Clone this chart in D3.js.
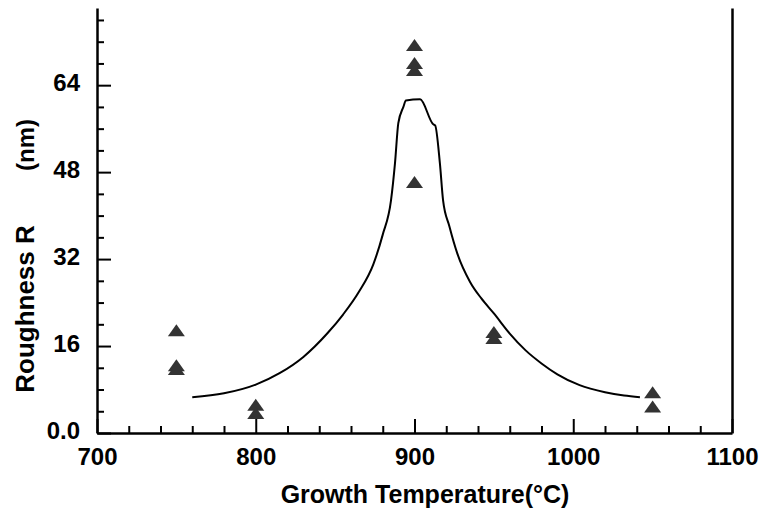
<!DOCTYPE html>
<html>
<head>
<meta charset="utf-8">
<script src="https://cdn.jsdelivr.net/npm/d3@7/dist/d3.min.js"></script>
<style>
  html, body { margin: 0; padding: 0; background: #fff; }
  svg { display: block; }
  text { font-family: "Liberation Sans", Arial, sans-serif; font-weight: bold; fill: #000; }
</style>
</head>
<body>
<svg id="chart" width="769" height="514"></svg>
<script>
// ---- data ----
const tempTicks = [700, 800, 900, 1000, 1100];
const tempMinorTicks = d3.range(700, 1101, 20);
const roughTicks = [0, 16, 32, 48, 64];
const roughTickLabels = ["0.0", "16", "32", "48", "64"];
const roughMinorTicks = d3.range(0, 78, 4);

const pointTemps = [750, 750, 750, 800, 800, 900, 900, 900, 900, 950, 950, 1050, 1050];
const pointRough = [18.7, 12.3, 11.6, 5.0, 3.5, 71.2, 67.9, 66.6, 46.0, 18.4, 17.3, 7.3, 4.7];

const fitTemps = [760, 780, 800, 815, 830, 845, 855, 865, 874, 880, 885.2, 887.7, 889.8, 893, 894.6, 903.5, 911.8, 913, 916, 918, 922, 927, 935, 942, 950, 960, 970, 980, 990, 1004, 1020, 1032, 1042];
const fitRough = [6.6, 7.3, 8.9, 11.0, 14.0, 18.3, 21.8, 26.0, 31.0, 36.5, 42.8, 49.6, 57.0, 60.0, 61.2, 61.4, 56.8, 56.6, 49.6, 42.8, 38.0, 33.0, 27.8, 24.8, 22.0, 18.3, 15.2, 12.8, 10.8, 8.8, 7.5, 6.9, 6.6];

const xTitle = "Growth Temperature(°C)";
const yTitleMain = "Roughness R";
const yTitleUnit = "(nm)";

// ---- layout ----
const svg = d3.select("#chart");
const pLeft = 97, pRight = 732, pTop = 8, pBottom = 433;

const x = d3.scaleLinear().domain([700, 1100]).range([pLeft, pRight]);
const y = d3.scaleLinear().domain([0, 78.2]).range([pBottom, pTop]);

const FONT = "'Liberation Sans', Arial, sans-serif";

// bottom axis: minor ticks
svg.append("g")
  .attr("transform", `translate(0,${pBottom})`)
  .call(d3.axisBottom(x).tickValues(tempMinorTicks.filter(v => tempTicks.indexOf(v) < 0))
        .tickSize(-7).tickSizeOuter(0).tickFormat(""))
  .call(g => g.select(".domain").remove())
  .call(g => g.selectAll("line").attr("stroke", "#000").attr("stroke-width", 2));

// bottom axis: major ticks + labels
svg.append("g")
  .attr("transform", `translate(0,${pBottom})`)
  .call(d3.axisBottom(x).tickValues(tempTicks).tickSize(-14).tickSizeOuter(0).tickFormat(d3.format("d")))
  .call(g => g.select(".domain").attr("stroke", "#000").attr("stroke-width", 2.5))
  .call(g => g.selectAll("line").attr("stroke", "#000").attr("stroke-width", 2))
  .call(g => g.selectAll("text").attr("y", 32).attr("dy", 0)
        .style("font-size", "24px").style("font-weight", "bold")
        .style("font-family", FONT).attr("fill", "#000"));

// left axis: minor
svg.append("g")
  .attr("transform", `translate(${pLeft},0)`)
  .call(d3.axisLeft(y).tickValues(roughMinorTicks.filter(v => roughTicks.indexOf(v) < 0))
        .tickSize(-7).tickSizeOuter(0).tickFormat(""))
  .call(g => g.select(".domain").remove())
  .call(g => g.selectAll("line").attr("stroke", "#000").attr("stroke-width", 2));

// left axis: major + labels
svg.append("g")
  .attr("transform", `translate(${pLeft},0)`)
  .call(d3.axisLeft(y).tickValues(roughTicks).tickSize(-14).tickSizeOuter(0)
        .tickFormat((d, i) => roughTickLabels[i]))
  .call(g => g.select(".domain").attr("stroke", "#000").attr("stroke-width", 2.5))
  .call(g => g.selectAll("line").attr("stroke", "#000").attr("stroke-width", 2))
  .call(g => g.selectAll("text").attr("x", -17).attr("y", 5).attr("dy", 0)
        .style("font-size", "24px").style("font-weight", "bold")
        .style("font-family", FONT).attr("fill", "#000"));

// right axis: line only
svg.append("g")
  .attr("transform", `translate(${pRight},0)`)
  .call(d3.axisRight(y).tickValues([]).tickSizeOuter(0))
  .call(g => g.select(".domain").attr("stroke", "#000").attr("stroke-width", 2.5));

// fit curve
const fitData = fitTemps.map((t, i) => [t, fitRough[i]]);
svg.append("path")
  .datum(fitData)
  .attr("fill", "none")
  .attr("stroke", "#000")
  .attr("stroke-width", 2)
  .attr("stroke-linejoin", "round")
  .attr("d", d3.line().curve(d3.curveMonotoneX).x(d => x(d[0])).y(d => y(d[1])));

// triangles
const pts = pointTemps.map((t, i) => ({ t, r: pointRough[i] }));
svg.append("g").selectAll("path")
  .data(pts)
  .join("path")
  .attr("d", "M0,-7L8.5,5L-8.5,5Z")
  .attr("fill", "#333")
  .attr("transform", d => `translate(${x(d.t)},${y(d.r)})`);

// axis titles
svg.append("text")
  .attr("x", 425).attr("y", 503)
  .attr("text-anchor", "middle")
  .style("font-size", "25px")
  .text(xTitle);

svg.append("text")
  .attr("transform", "translate(34,309) rotate(-90)")
  .attr("text-anchor", "middle")
  .style("font-size", "26px")
  .text(yTitleMain);

svg.append("text")
  .attr("transform", "translate(34,145) rotate(-90)")
  .attr("text-anchor", "middle")
  .style("font-size", "24px")
  .text(yTitleUnit);
</script>
</body>
</html>
